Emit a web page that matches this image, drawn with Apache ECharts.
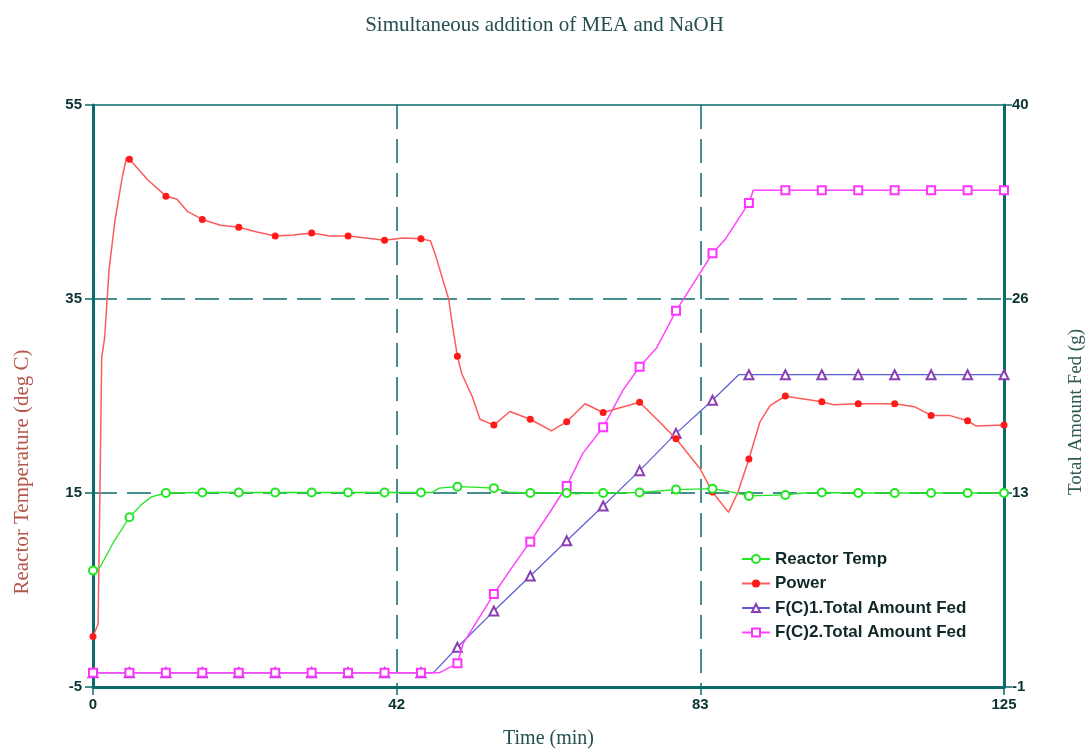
<!DOCTYPE html>
<html>
<head>
<meta charset="utf-8">
<title>Simultaneous addition of MEA and NaOH</title>
<script src="https://cdn.jsdelivr.net/npm/echarts@6/dist/echarts.min.js"></script>
<style>
  html, body { margin: 0; padding: 0; background: #ffffff; }
  #chart { width: 1089px; height: 749px; }
</style>
</head>
<body>
<div id="chart"></div>
<script>
// Time axis (min) and the two value axes
const timeRange = [0, 125];
const tempRange = [-5, 55];
const fedRange = [-1, 40];

// Reactor temperature (deg C) as [time, value]
const reactorTemp = [
  [0, 7.0], [1, 7.4], [2.8, 9.9], [5, 12.5], [6.5, 13.7], [8, 14.6], [10, 15.0],
  [15, 15.05], [20, 15.05], [25, 15.05], [30, 15.05], [35, 15.05], [40, 15.05], [45, 15.05],
  [46.5, 15.05], [47.5, 15.5], [50, 15.65], [52, 15.6], [55, 15.5], [57, 15.1], [60, 15.0],
  [65, 15.0], [66.5, 14.9], [67.5, 15.0], [70, 15.0], [75, 15.05], [80, 15.35], [85, 15.45],
  [87, 15.2], [90, 14.7], [95, 14.8], [97.5, 15.0], [100, 15.05], [105, 15.0], [110, 15.0],
  [115, 15.0], [120, 15.0], [125, 15.0]
];

// Power as [time, value]
const power = [
  [0, 0.2], [0.7, 1.5], [1, 18], [1.2, 29], [1.6, 31], [2.2, 38], [3, 43], [4, 47.5],
  [4.6, 49.6], [5, 49.4], [7.5, 47.3], [10, 45.6], [11.5, 45.3], [13, 44.0], [15, 43.2],
  [17.5, 42.6], [20, 42.4], [22.5, 41.9], [25, 41.5], [27.5, 41.6], [30, 41.8], [32.5, 41.5],
  [35, 41.5], [37.5, 41.3], [40, 41.05], [42.5, 41.3], [45, 41.2], [46.3, 41.0], [47, 39.5],
  [48.8, 35.0], [49.4, 31.9], [50, 29.1], [50.6, 27.3], [52, 25.0], [53.1, 22.6], [55, 22.0],
  [57.2, 23.4], [60, 22.6], [62.9, 21.4], [65, 22.35], [67.5, 24.2], [70, 23.3], [75, 24.35],
  [77.5, 22.5], [80, 20.6], [83.3, 17.5], [85, 15.1], [87.2, 13.0], [88.5, 15.1], [90, 18.5],
  [91.5, 22.3], [92.9, 24.0], [95, 25.0], [96.6, 24.8], [100, 24.4], [101.6, 24.1], [105, 24.2],
  [110, 24.2], [112.7, 23.9], [115, 23.0], [117.5, 23.0], [120, 22.45], [121.2, 21.9], [125, 22.0]
];

// F(C)1 total amount fed (g) as [time, value]
const fed1 = [
  [0, 0], [5, 0], [10, 0], [15, 0], [20, 0], [25, 0], [30, 0], [35, 0], [40, 0], [45, 0],
  [46.7, 0], [50, 1.8], [55, 4.35], [60, 6.82], [65, 9.3], [70, 11.75], [75, 14.24],
  [80, 16.87], [85, 19.2], [88.6, 21.0], [90, 21.0], [95, 21.0], [100, 21.0], [105, 21.0],
  [110, 21.0], [115, 21.0], [120, 21.0], [125, 21.0]
];

// F(C)2 total amount fed (g) as [time, value]
const fed2 = [
  [0, 0], [5, 0], [10, 0], [15, 0], [20, 0], [25, 0], [30, 0], [35, 0], [40, 0], [45, 0],
  [47.5, 0], [50, 0.67], [50.8, 2.08], [55, 5.55], [57.4, 7.36], [60, 9.24], [62.6, 11.24],
  [65, 13.16], [67.2, 15.46], [70, 17.3], [72.7, 19.9], [75, 21.56], [77.3, 22.86], [80, 25.5],
  [85, 29.55], [86.7, 30.5], [90, 33.1], [90.6, 34.0], [95, 34.0], [100, 34.0], [105, 34.0],
  [110, 34.0], [115, 34.0], [120, 34.0], [125, 34.0]
];

const seriesNames = ['Reactor Temp', 'Power', 'F(C)1.Total Amount Fed', 'F(C)2.Total Amount Fed'];
const leftTitle = 'Reactor Temperature (deg C)';
const rightTitle = 'Total Amount Fed (g)';

const AXIS = '#0b6b6b';
const LABEL = '#0b3333';
const serif = '"Liberation Serif", "DejaVu Serif", serif';
const sans = '"Liberation Sans", Arial, sans-serif';

// Markers are drawn every 5 minutes only
const markerEvery5 = size => v => (Math.abs(v[0] % 5) < 1e-9 ? size : 0);

const gridLine = { show: true, showMinLine: false, showMaxLine: false,
  lineStyle: { color: AXIS, width: 1.5, type: [24, 10] } };
const tickLabel = { color: LABEL, fontFamily: sans, fontWeight: 'bold', fontSize: 15 };

const chart = echarts.init(document.getElementById('chart'), null, { renderer: 'canvas' });
chart.setOption({
  backgroundColor: '#ffffff',
  animation: false,
  title: {
    text: 'Simultaneous addition of MEA and NaOH',
    left: 'center', top: 10,
    textStyle: { fontFamily: serif, fontSize: 21, fontWeight: 'normal', color: '#254f4f' }
  },
  // Vertical axis titles, reading bottom to top
  graphic: [
    {
      type: 'text', x: 22, y: 472, rotation: Math.PI / 2,
      style: { text: leftTitle, fontFamily: serif, fontSize: 21, fill: '#b5564a',
        align: 'center', verticalAlign: 'middle' }
    },
    {
      type: 'text', x: 1076, y: 412, rotation: Math.PI / 2,
      style: { text: rightTitle, fontFamily: serif, fontSize: 19, fill: '#2f5a55',
        align: 'center', verticalAlign: 'middle' }
    }
  ],
  grid: {
    left: 93, right: 85, top: 105, bottom: 62,
    outerBoundsMode: 'none', containLabel: false,
    show: true, borderColor: AXIS, borderWidth: 1.5, backgroundColor: 'transparent'
  },
  legend: {
    orient: 'vertical', left: 736, top: 544,
    itemWidth: 28, itemHeight: 10, itemGap: 4.5,
    selectedMode: false,
    data: seriesNames,
    textStyle: { fontFamily: sans, fontWeight: 'bold', fontSize: 17, color: '#102828', lineHeight: 20 }
  },
  xAxis: {
    type: 'value', min: timeRange[0], max: timeRange[1], interval: (timeRange[1] - timeRange[0]) / 3,
    name: 'Time (min)', nameLocation: 'middle', nameGap: 42,
    nameTextStyle: { fontFamily: serif, fontSize: 20, color: '#245050' },
    axisLine: { show: true, onZero: false, lineStyle: { color: AXIS, width: 3 } },
    axisTick: { show: true, length: 8, lineStyle: { color: AXIS, width: 1.5 } },
    axisLabel: Object.assign({ margin: 10, formatter: v => String(Math.round(v)) }, tickLabel),
    splitLine: gridLine
  },
  yAxis: [
    {
      type: 'value', position: 'left', min: tempRange[0], max: tempRange[1], interval: 20,
      axisLine: { show: true, onZero: false, lineStyle: { color: AXIS, width: 3 } },
      axisTick: { show: true, length: 8, lineStyle: { color: AXIS, width: 1.5 } },
      axisLabel: Object.assign({ margin: 11 }, tickLabel),
      splitLine: gridLine
    },
    {
      type: 'value', position: 'right', min: fedRange[0], max: fedRange[1],
      interval: (fedRange[1] - fedRange[0]) / 3,
      axisLine: { show: true, onZero: false, lineStyle: { color: AXIS, width: 3 } },
      axisTick: { show: true, length: 8, lineStyle: { color: AXIS, width: 1.5 } },
      axisLabel: Object.assign({ margin: 8, formatter: v => String(Math.round(v)) }, tickLabel),
      splitLine: { show: false }
    }
  ],
  series: [
    {
      name: seriesNames[2], type: 'line', yAxisIndex: 1, data: fed1, z: 2,
      symbol: 'emptyTriangle', symbolSize: markerEvery5(9), showAllSymbol: true,
      lineStyle: { color: '#5b5bd6', width: 1.2 },
      itemStyle: { color: '#8a3fb5', borderWidth: 1.2 }
    },
    {
      name: seriesNames[3], type: 'line', yAxisIndex: 1, data: fed2, z: 3,
      symbol: 'emptyRect', symbolSize: markerEvery5(8), showAllSymbol: true,
      lineStyle: { color: '#ff44ff', width: 1.5 },
      itemStyle: { color: '#ff33ff', borderWidth: 1.5 }
    },
    {
      name: seriesNames[1], type: 'line', yAxisIndex: 0, data: power, z: 4,
      symbol: 'circle', symbolSize: markerEvery5(7), showAllSymbol: true,
      lineStyle: { color: '#ff5a5a', width: 1.5 },
      itemStyle: { color: '#ff1a1a' }
    },
    {
      name: seriesNames[0], type: 'line', yAxisIndex: 0, data: reactorTemp, z: 5,
      symbol: 'emptyCircle', symbolSize: markerEvery5(8), showAllSymbol: true,
      lineStyle: { color: '#22e622', width: 1.3 },
      itemStyle: { color: '#22e622', borderWidth: 1.2 }
    }
  ]
});
</script>
</body>
</html>
